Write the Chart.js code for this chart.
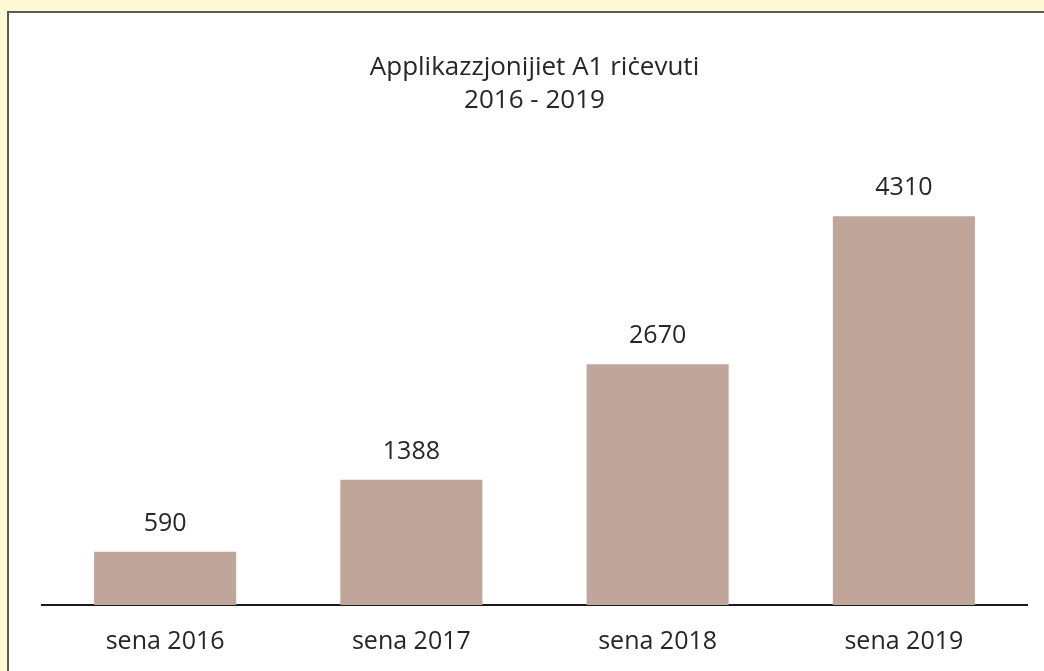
<!DOCTYPE html>
<html lang="mt">

<head>
    <title>Applikazzjonijiet A1</title>
    <meta charset="utf-8">
    <script src="https://cdn.jsdelivr.net/npm/chart.js"></script>
    <style>
        html, body { margin: 0; padding: 0; }
        body { background: #fff9d6; width: 1044px; height: 671px; overflow: hidden; position: relative; }
        #frame {
            position: absolute; left: 7px; top: 11px; width: 1060px; height: 680px;
            background: #ffffff; border-left: 2px solid #5d5a52; border-top: 2px solid #5d5a52;
        }
        #chartBox { position: absolute; left: 0; top: 0; width: 1044px; height: 671px; }
    </style>
</head>

<body>
    <div id="frame"></div>
    <div id="chartBox"><canvas id="a1Chart"></canvas></div>

    <script>
        // data
        const categories = ['sena 2016', 'sena 2017', 'sena 2018', 'sena 2019'];
        const received = [590, 1388, 2670, 4310];
        const titleLines = ['Applikazzjonijiet A1 riċevuti', '2016 - 2019'];

        const textColor = '#262626';
        const fontFamily = "'Open Sans', sans-serif";

        // values written above each bar
        const barValues = {
            id: 'barValues',
            afterDatasetsDraw(chart) {
                const ctx = chart.ctx;
                const meta = chart.getDatasetMeta(0);
                ctx.save();
                ctx.font = '25px ' + fontFamily;
                ctx.fillStyle = textColor;
                ctx.textAlign = 'center';
                ctx.textBaseline = 'middle';
                meta.data.forEach((bar, i) => {
                    ctx.fillText(String(chart.data.datasets[0].data[i]), bar.x, bar.y - 28);
                });
                ctx.restore();
            }
        };

        new Chart(document.getElementById('a1Chart'), {
            type: 'bar',
            data: {
                labels: categories,
                datasets: [{
                    label: 'Applikazzjonijiet',
                    data: received,
                    backgroundColor: '#c0a59b',
                    borderWidth: 0,
                    categoryPercentage: 1,
                    barPercentage: 0.577
                }]
            },
            options: {
                responsive: true,
                maintainAspectRatio: false,
                animation: false,
                layout: { padding: { left: 42, right: 17, top: 0, bottom: 0 } },
                plugins: {
                    legend: { display: false },
                    tooltip: { enabled: false },
                    title: {
                        display: true,
                        text: titleLines,
                        color: textColor,
                        font: { family: fontFamily, size: 26, weight: 'normal', lineHeight: 1.27 },
                        padding: { top: 51.5, bottom: 36.5 }
                    }
                },
                scales: {
                    x: {
                        grid: { display: false },
                        border: { display: true, color: '#1a1a1a', width: 2 },
                        ticks: {
                            color: textColor,
                            padding: 14,
                            font: { family: fontFamily, size: 25, lineHeight: 1.2 }
                        },
                        afterFit(scale) { scale.height = 66; }
                    },
                    y: {
                        display: false,
                        min: 0,
                        max: 5000
                    }
                }
            },
            plugins: [barValues]
        });
    </script>
</body>

</html>
